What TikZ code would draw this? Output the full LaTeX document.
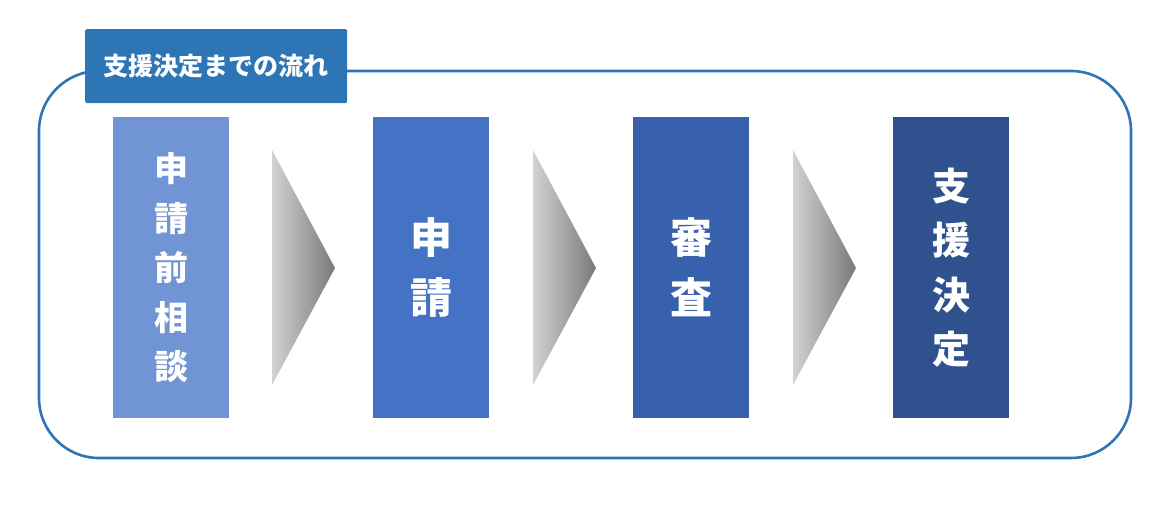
\documentclass[tikz,border=0pt]{standalone}
\usepackage{fontspec}
\newfontfamily\jp{Noto Sans CJK JP}
\usetikzlibrary{positioning}
\definecolor{frameblue}{HTML}{2E75B6}
\definecolor{stepA}{HTML}{7094D4}
\definecolor{stepB}{HTML}{4472C4}
\definecolor{stepC}{HTML}{3761AD}
\definecolor{stepD}{HTML}{2F528F}
\begin{document}
\begin{tikzpicture}[x=1pt, y=-1pt]
        \tikzstyle{stepbox}=[rectangle, minimum width=116pt, minimum height=301pt, inner sep=0pt, text=white, align=center, anchor=north west]
        \tikzstyle{chevron}=[left color=gray!35, right color=gray!95!black, shading angle=90]
        \useasboundingbox (0,0) rectangle (1176,519);

        % Frame
        \draw[frameblue, line width=2.6pt, rounded corners=60pt] (39,71) rectangle (1131,458);

        % Title
        \node[fill=frameblue, rounded corners=1.5pt, minimum width=262pt, minimum height=74pt, text=white,
              font=\jp\bfseries\fontsize{25}{25}\selectfont, anchor=north west] (title) at (85,29) {支援決定までの流れ};

        % Steps
        \node[stepbox, fill=stepA, font=\jp\bfseries\fontsize{34}{49.5}\selectfont] (pre) at (113,117) {申\\請\\前\\相\\談};
        \node[stepbox, fill=stepB, font=\jp\bfseries\fontsize{42}{60}\selectfont] (apply) at (373,117) {申\\請};
        \node[stepbox, fill=stepC, font=\jp\bfseries\fontsize{42}{60}\selectfont] (review) at (633,117) {審\\査};
        \node[stepbox, fill=stepD, font=\jp\bfseries\fontsize{38}{54.5}\selectfont] (decision) at (893,117) {支\\援\\決\\定};

        % Arrows between steps
        \foreach \x in {272,533,793}
            \shade[chevron] (\x,150) -- (\x+63,268) -- (\x,385) -- cycle;
        \end{tikzpicture}
\end{document}
